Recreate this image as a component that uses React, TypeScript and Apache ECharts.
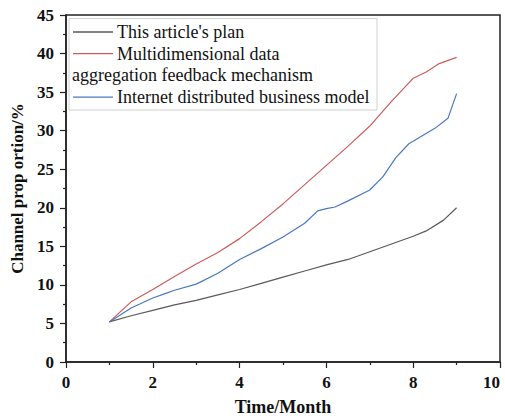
import React, { useEffect, useRef } from "react";
import * as echarts from "echarts";

const planMonths = [1, 1.5, 2, 2.5, 3, 3.5, 4, 4.5, 5, 5.5, 6, 6.5, 7, 7.5, 8, 8.3, 8.7, 9];
const planValues = [5.2, 6.0, 6.7, 7.4, 8.0, 8.7, 9.4, 10.2, 11.0, 11.8, 12.6, 13.3, 14.3, 15.3, 16.3, 17.0, 18.4, 20.0];

const multiMonths = [1, 1.5, 2, 2.5, 3, 3.5, 4, 4.5, 5, 5.5, 6, 6.5, 7, 7.5, 7.9, 8.0, 8.3, 8.6, 9];
const multiValues = [5.2, 7.8, 9.4, 11.1, 12.7, 14.2, 16.0, 18.2, 20.5, 23.0, 25.5, 28.0, 30.6, 33.8, 36.2, 36.8, 37.6, 38.7, 39.5];

const internetMonths = [1, 1.5, 2, 2.3, 2.5, 3, 3.5, 4, 4.5, 5, 5.5, 5.8, 6, 6.2, 6.5, 7, 7.3, 7.6, 7.9, 8.2, 8.5, 8.8, 9];
const internetValues = [5.2, 7.0, 8.3, 8.9, 9.3, 10.1, 11.5, 13.3, 14.7, 16.2, 18.0, 19.6, 19.9, 20.1, 20.9, 22.3, 24.0, 26.5, 28.3, 29.3, 30.3, 31.6, 34.8];

const seriesNames = [
  "This article's plan",
  "Multidimensional data aggregation feedback mechanism",
  "Internet distributed business model",
];
const colors = ["#5a5a5a", "#cc5c5c", "#4a78c0"];

const xTicks = { min: 0, max: 10, interval: 2 };
const yTicks = { min: 0, max: 45, interval: 5 };

const pairs = (xs: number[], ys: number[]) => xs.map((x, i) => [x, ys[i]]);

const FONT = "'Liberation Serif', 'Times New Roman', serif";

export default function App() {
  const ref = useRef<HTMLDivElement>(null);
  useEffect(() => {
    if (!ref.current) return;
    const chart = echarts.init(ref.current, undefined, { renderer: "svg" });
    const axisCommon = {
      axisLine: { show: true, lineStyle: { color: "#222", width: 1.5 } },
      axisTick: { show: true, inside: false, length: 6, lineStyle: { color: "#222", width: 1.2 } },
      minorTick: { show: true, splitNumber: 2, length: 3, lineStyle: { color: "#222", width: 1.2 } },
      splitLine: { show: false },
      axisLabel: { color: "#111", fontFamily: FONT, fontWeight: "bold", fontSize: 17 },
      nameTextStyle: { color: "#111", fontFamily: FONT, fontWeight: "bold", fontSize: 17 },
    };
    const legendTop = 20;
    const rowH = 21.7;
    const lineX1 = 73;
    const lineX2 = 113;
    const textX = 117;
    const textStyle = { fontFamily: FONT, fontSize: 18, fill: "#111" };
    chart.setOption({
      animation: false,
      grid: {
        left: 66,
        top: 15,
        right: 5,
        bottom: 56,
        show: true,
        borderColor: "#222",
        borderWidth: 1.5,
        containLabel: false,
        outerBoundsMode: "none",
      },
      xAxis: {
        type: "value",
        ...xTicks,
        ...axisCommon,
        axisLabel: { ...axisCommon.axisLabel, margin: 12, alignMaxLabel: "right" },
        name: "Time/Month",
        nameLocation: "middle",
        nameGap: 36,
        nameTextStyle: { ...axisCommon.nameTextStyle, fontSize: 18 },
      },
      yAxis: {
        type: "value",
        ...yTicks,
        ...axisCommon,
        axisLabel: { ...axisCommon.axisLabel, margin: 12 },
        name: "Channel prop ortion/%",
        nameLocation: "middle",
        nameGap: 40,
      },
      series: [
        { name: seriesNames[0], type: "line", data: pairs(planMonths, planValues), showSymbol: false, lineStyle: { color: colors[0], width: 1.2 }, itemStyle: { color: colors[0] } },
        { name: seriesNames[1], type: "line", data: pairs(multiMonths, multiValues), showSymbol: false, lineStyle: { color: colors[1], width: 1.2 }, itemStyle: { color: colors[1] } },
        { name: seriesNames[2], type: "line", data: pairs(internetMonths, internetValues), showSymbol: false, lineStyle: { color: colors[2], width: 1.2 }, itemStyle: { color: colors[2] } },
      ],
      graphic: [
        {
          type: "rect",
          shape: { x: 69, y: 18.5, width: 308, height: 91.5 },
          style: { fill: "#fff", stroke: "#cfcfcf", lineWidth: 1 },
          z: 10,
        },
        { type: "line", shape: { x1: lineX1, y1: legendTop + 12, x2: lineX2, y2: legendTop + 12 }, style: { stroke: colors[0], lineWidth: 1.3 }, z: 11 },
        { type: "text", x: textX, y: legendTop + 12, style: { ...textStyle, text: "This article's plan", verticalAlign: "middle" }, z: 11 },
        { type: "line", shape: { x1: lineX1, y1: legendTop + 12 + rowH, x2: lineX2, y2: legendTop + 12 + rowH }, style: { stroke: colors[1], lineWidth: 1.3 }, z: 11 },
        { type: "text", x: textX, y: legendTop + 12 + rowH, style: { ...textStyle, text: "Multidimensional data", verticalAlign: "middle" }, z: 11 },
        { type: "text", x: 72, y: legendTop + 12 + rowH * 2, style: { ...textStyle, text: "aggregation feedback mechanism", verticalAlign: "middle" }, z: 11 },
        { type: "line", shape: { x1: lineX1, y1: legendTop + 12 + rowH * 3, x2: lineX2, y2: legendTop + 12 + rowH * 3 }, style: { stroke: colors[2], lineWidth: 1.3 }, z: 11 },
        { type: "text", x: textX, y: legendTop + 12 + rowH * 3, style: { ...textStyle, text: "Internet distributed business model", verticalAlign: "middle" }, z: 11 },
      ],
    });
    return () => chart.dispose();
  }, []);
  return <div ref={ref} style={{ position: "absolute", left: 0, top: 0, width: 505, height: 418 }} />;
}
